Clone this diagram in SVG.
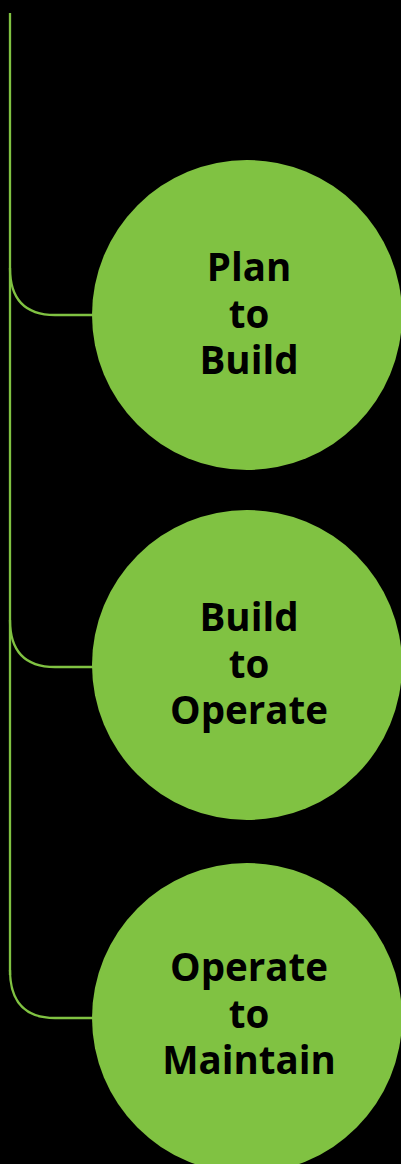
<svg xmlns="http://www.w3.org/2000/svg" width="401" height="1164" viewBox="0 0 401 1164">
<style>
.n{fill:#80c242}
.t{font-family:"Open Sans","Noto Sans",sans-serif;font-weight:bold;font-size:38.5px;fill:#000;text-anchor:middle}
.c{fill:none;stroke:#80c242;stroke-width:2.3}
</style>
<rect width="401" height="1164" fill="#000"/>
<g id="connectors">
<path class="c" d="M10,13 V975"/>
<path class="c" d="M10,268 C10,300 25,315 55,315 H93"/>
<path class="c" d="M10,620 C10,652 25,667 55,667 H93"/>
<path class="c" d="M10,970 C10,1002 25,1018 55,1018 H93"/>
</g>
<g id="node1">
<circle class="n" cx="247" cy="315" r="155"/>
<text class="t" x="249" y="281">Plan</text>
<text class="t" x="249" y="328">to</text>
<text class="t" x="249" y="374">Build</text>
</g>
<g id="node2">
<circle class="n" cx="247" cy="665" r="155"/>
<text class="t" x="249" y="631">Build</text>
<text class="t" x="249" y="678">to</text>
<text class="t" x="249" y="724">Operate</text>
</g>
<g id="node3">
<circle class="n" cx="247" cy="1018" r="155"/>
<text class="t" x="249" y="981">Operate</text>
<text class="t" x="249" y="1028">to</text>
<text class="t" x="249" y="1074">Maintain</text>
</g>
</svg>
